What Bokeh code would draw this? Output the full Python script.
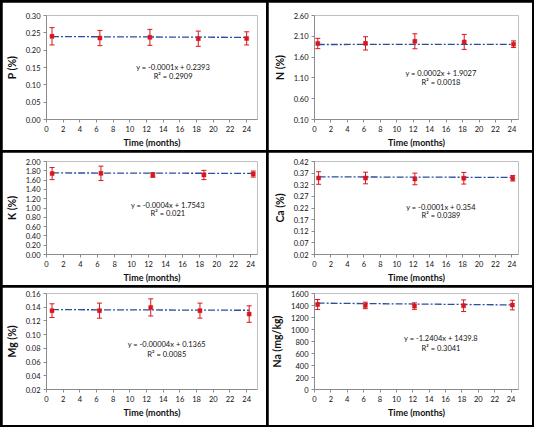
from bokeh.plotting import figure
from bokeh.models import (ColumnDataSource, Whisker, TeeHead, FixedTicker,
                          PrintfTickFormatter, Label, Range1d, GridBox)
from bokeh.embed import file_html
from bokeh.resources import INLINE

# ---------------- data ----------------
p_time = [0.66, 6.4, 12.4, 18.2, 24.0]
p_mean = [0.240, 0.235, 0.237, 0.233, 0.234]
p_err = [0.025, 0.022, 0.023, 0.022, 0.019]

n_time = [0.4, 6.2, 12.2, 18.2, 24.2]
n_mean = [1.927, 1.930, 1.980, 1.965, 1.910]
n_err = [0.124, 0.160, 0.180, 0.180, 0.080]

k_time = [0.66, 6.4, 12.5, 18.5, 24.3]
k_mean = [1.740, 1.745, 1.710, 1.710, 1.730]
k_err = [0.130, 0.155, 0.050, 0.100, 0.065]

ca_time = [0.5, 6.2, 12.2, 18.15, 24.1]
ca_mean = [0.349, 0.349, 0.345, 0.348, 0.348]
ca_err = [0.027, 0.025, 0.025, 0.025, 0.012]

mg_time = [0.66, 6.35, 12.5, 18.4, 24.3]
mg_mean = [0.135, 0.135, 0.1397, 0.135, 0.130]
mg_err = [0.0100, 0.0110, 0.0125, 0.0110, 0.0120]

na_time = [0.38, 6.2, 12.2, 18.2, 24.15]
na_mean = [1417, 1401, 1390, 1396, 1407]
na_err = [83, 54, 54, 97, 80]

slopes = [-0.0001, 0.0002, -0.0004, -0.0001, -0.00004, -1.2404]
intercepts = [0.2393, 1.9027, 1.7543, 0.354, 0.1365, 1439.8]
equations = ["y = -0.0001x + 0.2393", "y = 0.0002x + 1.9027",
             "y = -0.0004x + 1.7543", "y = -0.0001x + 0.354",
             "y = -0.00004x + 0.1365", "y = -1.2404x + 1439.8"]
r2_labels = ["R² = 0.2909", "R² = 0.0018", "R² = 0.021",
             "R² = 0.0389", "R² = 0.0085", "R² = 0.3041"]
y_titles = ["P (%)", "N (%)", "K (%)", "Ca (%)", "Mg (%)", "Na (mg/kg)"]
x_title = "Time (months)"
x_ticks = list(range(0, 25, 2))
y_tick_lists = [
    [0.00, 0.05, 0.10, 0.15, 0.20, 0.25, 0.30],
    [0.10, 0.60, 1.10, 1.60, 2.10, 2.60],
    [0.00, 0.20, 0.40, 0.60, 0.80, 1.00, 1.20, 1.40, 1.60, 1.80, 2.00],
    [0.02, 0.07, 0.12, 0.17, 0.22, 0.27, 0.32, 0.37, 0.42],
    [0.02, 0.04, 0.06, 0.08, 0.10, 0.12, 0.14, 0.16],
    [0, 200, 400, 600, 800, 1000, 1200, 1400, 1600],
]
y_formats = ["%.2f", "%.2f", "%.2f", "%.2f", "%.2f", "%d"]

# ---------------- style ----------------
RED = "#D8161E"
BLUE = "#2B4F9C"
AXIS = "#8C8C8C"
FONT = "Lato"
COL_W = 264
ROW_H = [148, 133, 138]
BORDER_TOP = [13, 9, 6]
BORDER_BOTTOM = [26, 24, 36]
BORDER_RIGHT = [9, 14]
XMAX = [25.3, 24.8, 24.8, 24.8, 25.3, 24.9]
EQ_POS = [(0.60, 0.50, 0.41), (0.62, 0.445, 0.355), (0.575, 0.53, 0.44),
          (0.62, 0.51, 0.42), (0.57, 0.466, 0.366), (0.62, 0.53, 0.43)]

series = [(p_time, p_mean, p_err), (n_time, n_mean, n_err),
          (k_time, k_mean, k_err), (ca_time, ca_mean, ca_err),
          (mg_time, mg_mean, mg_err), (na_time, na_mean, na_err)]


def make_panel(i):
    t, m, e = series[i]
    row, col = divmod(i, 2)
    ticks = y_tick_lists[i]
    ymin, ymax = ticks[0], ticks[-1]
    xmax = XMAX[i]
    p = figure(width=COL_W, height=ROW_H[row], output_backend="svg",
               toolbar_location=None, x_range=Range1d(0, xmax),
               y_range=Range1d(ymin, ymax),
               min_border_left=40, min_border_right=BORDER_RIGHT[col],
               min_border_top=BORDER_TOP[row],
               min_border_bottom=BORDER_BOTTOM[row])
    p.background_fill_color = "white"
    p.border_fill_color = "white"
    p.outline_line_color = None
    p.xgrid.visible = False
    p.ygrid.visible = False

    src = ColumnDataSource(dict(x=t, y=m,
                                upper=[a + b for a, b in zip(m, e)],
                                lower=[a - b for a, b in zip(m, e)]))
    # trend line
    x0, x1 = t[0], t[-1]
    p.line([x0, x1], [slopes[i] * x0 + intercepts[i], slopes[i] * x1 + intercepts[i]],
           line_color=BLUE, line_width=1.3, line_dash="7 2 2 2")
    w = Whisker(source=src, base="x", upper="upper", lower="lower",
                dimension="height", line_color=RED, line_width=1,
                upper_head=TeeHead(size=5, line_color=RED, line_width=1),
                lower_head=TeeHead(size=5, line_color=RED, line_width=1))
    p.add_layout(w)
    p.scatter("x", "y", source=src, marker="square", size=4,
              fill_color=RED, line_color=RED, line_width=0.5)

    fx, fy1, fy2 = EQ_POS[i]
    for txt, fy in ((equations[i], fy1), (r2_labels[i], fy2)):
        p.add_layout(Label(x=fx * xmax, y=ymin + fy * (ymax - ymin), text=txt,
                           text_align="center", text_baseline="middle",
                           text_font=FONT, text_font_size="7.5px",
                           text_color="#111111"))

    for ax in (p.xaxis[0], p.yaxis[0]):
        ax.axis_line_color = AXIS
        ax.major_tick_line_color = AXIS
        ax.major_tick_out = 3
        ax.major_tick_in = 0
        ax.minor_tick_line_color = None
        ax.major_label_text_font = FONT
        ax.major_label_text_font_size = "7.5px"
        ax.major_label_text_color = "#111111"
        ax.axis_label_text_font = FONT
        ax.axis_label_text_font_style = "bold"
        ax.axis_label_text_color = "#111111"
        ax.major_label_standoff = 3
    p.xaxis.ticker = FixedTicker(ticks=x_ticks)
    p.yaxis.ticker = FixedTicker(ticks=ticks)
    p.yaxis.formatter = PrintfTickFormatter(format=y_formats[i])
    p.xaxis.axis_label = x_title
    p.xaxis.axis_label_text_font_size = "9px"
    p.xaxis.axis_label_standoff = 2
    p.yaxis.axis_label = y_titles[i]
    p.yaxis.axis_label_text_font_size = "10.5px"
    p.yaxis.axis_label_standoff = 5
    return p, row, col


children = []
for i in range(6):
    fig, r, c = make_panel(i)
    children.append((fig, r, c))

grid = GridBox(children=children, spacing=2,
               styles={"background-color": "black", "padding": "2px"})

open("out.html", "w").write(file_html(grid, INLINE))
